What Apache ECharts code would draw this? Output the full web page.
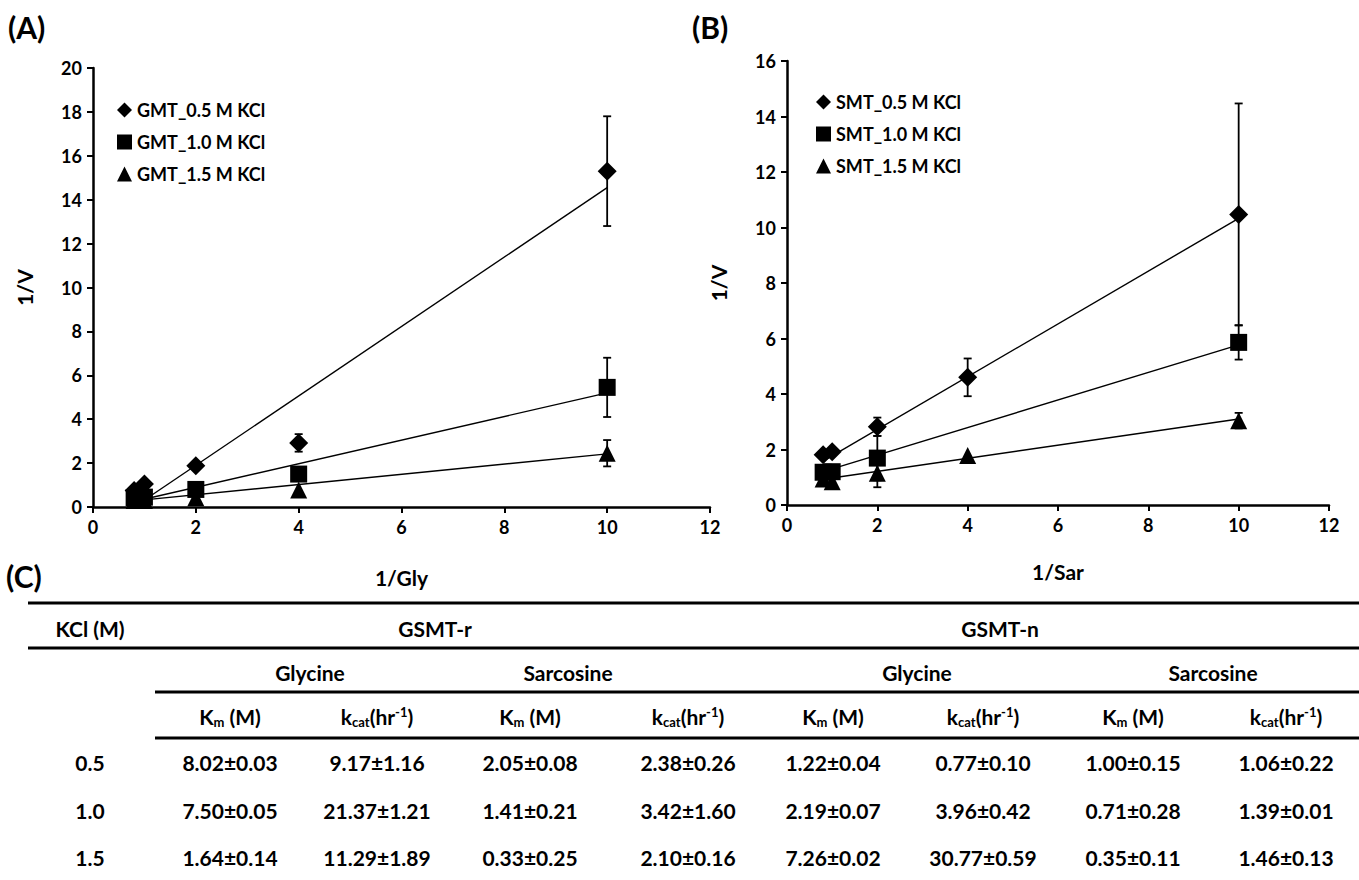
<!DOCTYPE html>
<html>
<head>
<meta charset="utf-8">
<script src="https://cdn.jsdelivr.net/npm/echarts@6/dist/echarts.min.js"></script>
<style>
  html, body { margin: 0; padding: 0; background: #fff; }
  #chart { width: 1359px; height: 880px; }
</style>
</head>
<body>
<div id="chart"></div>
<script>
// ---- panel A: 1/Gly ----
const xGly = [0.8, 1, 2, 4, 10];
const gmt05 = [0.75, 1.05, 1.88, 2.92, 15.3];
const gmt05Err = [0, 0, 0, 0.4, 2.5];
const gmt10 = [0.42, 0.45, 0.8, 1.5, 5.45];
const gmt10Err = [0, 0, 0, 0, 1.35];
const gmt15 = [0.3, 0.3, 0.42, 0.78, 2.45];
const gmt15Err = [0, 0, 0, 0, 0.6];
const trendGmt05 = [[0.8, 0.0], [10, 14.55]];
const trendGmt10 = [[0.8, 0.25], [10, 5.2]];
const trendGmt15 = [[0.8, 0.28], [10, 2.42]];

// ---- panel B: 1/Sar ----
const xSar = [0.8, 1, 2, 4, 10];
const smt05 = [1.81, 1.92, 2.82, 4.6, 10.47];
const smt05Err = [0, 0, 0.33, 0.68, 4.0];
const smt10 = [1.18, 1.2, 1.69, null, 5.86];
const smt10Err = [0, 0, 0.8, 0, 0.62];
const smt15 = [0.94, 0.84, 1.14, 1.78, 3.04];
const smt15Err = [0, 0, 0.5, 0, 0.28];
const trendSmt05 = [[0.8, 1.58], [10, 10.33]];
const trendSmt10 = [[0.8, 1.2], [10, 5.77]];
const trendSmt15 = [[0.8, 0.93], [10, 3.1]];

// ---- panel C: table ----
const kclLevels = ['0.5', '1.0', '1.5'];
const enzymes = ['GSMT-r', 'GSMT-n'];
const substrates = ['Glycine', 'Sarcosine', 'Glycine', 'Sarcosine'];
const row05 = ['8.02±0.03', '9.17±1.16', '2.05±0.08', '2.38±0.26', '1.22±0.04', '0.77±0.10', '1.00±0.15', '1.06±0.22'];
const row10 = ['7.50±0.05', '21.37±1.21', '1.41±0.21', '3.42±1.60', '2.19±0.07', '3.96±0.42', '0.71±0.28', '1.39±0.01'];
const row15 = ['1.64±0.14', '11.29±1.89', '0.33±0.25', '2.10±0.16', '7.26±0.02', '30.77±0.59', '0.35±0.11', '1.46±0.13'];

const FONT = 'Lato, "Open Sans", sans-serif';
const chart = echarts.init(document.getElementById('chart'), null, { renderer: 'svg' });

function pts(xs, ys) {
  return xs.map((x, i) => [x, ys[i]]).filter(p => p[1] !== null);
}
function errs(xs, ys, es) {
  return xs.map((x, i) => [x, ys[i] - es[i], ys[i] + es[i]]).filter((p, i) => ys[i] !== null && es[i] > 0);
}

function errorBar(params, api) {
  const x = api.value(0);
  const top = api.coord([x, api.value(2)]);
  const bot = api.coord([x, api.value(1)]);
  const cap = 4;
  const st = { stroke: '#000', lineWidth: 1.8 };
  return {
    type: 'group',
    children: [
      { type: 'line', shape: { x1: top[0], y1: top[1], x2: bot[0], y2: bot[1] }, style: st },
      { type: 'line', shape: { x1: top[0] - cap, y1: top[1], x2: top[0] + cap, y2: top[1] }, style: st },
      { type: 'line', shape: { x1: bot[0] - cap, y1: bot[1], x2: bot[0] + cap, y2: bot[1] }, style: st }
    ]
  };
}

const symbols = { '0.5': ['diamond', 19], '1.0': ['rect', 17], '1.5': ['triangle', 17] };

function scatter(name, idx, data, kcl) {
  return {
    name, type: 'scatter', xAxisIndex: idx, yAxisIndex: idx, data,
    symbol: symbols[kcl][0], symbolSize: symbols[kcl][1],
    itemStyle: { color: '#000', opacity: 1 }, z: 5, silent: true
  };
}
function trend(idx, data) {
  return {
    type: 'line', xAxisIndex: idx, yAxisIndex: idx, data, showSymbol: false,
    lineStyle: { color: '#000', width: 1.4 }, z: 3, silent: true
  };
}
function errSeries(idx, data) {
  return {
    type: 'custom', xAxisIndex: idx, yAxisIndex: idx, data, renderItem: errorBar,
    encode: { x: 0, y: [1, 2] }, z: 4, silent: true
  };
}

const axisCommon = {
  axisLine: { show: true, lineStyle: { color: '#000', width: 2.5 } },
  axisTick: { show: true, length: 6, lineStyle: { color: '#000', width: 2 } },
  axisLabel: { color: '#000', fontSize: 18, fontWeight: 'bold', fontFamily: FONT, margin: 11 },
  splitLine: { show: false },
  nameTextStyle: { color: '#000', fontSize: 21, fontWeight: 'bold', fontFamily: FONT },
  nameLocation: 'middle'
};

// table layout
const colX = [230, 377, 530, 688, 833, 983, 1133, 1286];
const rowY = [762, 810, 857];
const tableGraphics = [];
function txt(text, x, y, extra) {
  tableGraphics.push({
    type: 'text', x, y, silent: true,
    style: Object.assign({
      text, fill: '#000', font: 'bold 21px ' + FONT, textAlign: 'center', textVerticalAlign: 'middle'
    }, extra || {})
  });
}
function hline(x1, x2, y) {
  tableGraphics.push({ type: 'line', silent: true, shape: { x1, y1: y, x2, y2: y }, style: { stroke: '#000', lineWidth: 3 } });
}
const rich = {
  b: { fontSize: 21, fontWeight: 'bold', fontFamily: FONT, fill: '#000' },
  sub: { fontSize: 13, fontWeight: 'bold', fontFamily: FONT, fill: '#000', padding: [11, 0, 0, 0] },
  sup: { fontSize: 13, fontWeight: 'bold', fontFamily: FONT, fill: '#000', padding: [0, 0, 9, 0] }
};
hline(28, 1359, 603);
hline(28, 1359, 648);
hline(155, 1359, 692);
hline(155, 1359, 738);
txt('KCl (M)', 90, 628);
txt(enzymes[0], 435, 628);
txt(enzymes[1], 1000, 628);
const subX = [310, 568, 917, 1213];
substrates.forEach((s, i) => txt(s, subX[i], 672));
colX.forEach((x, i) => {
  const t = i % 2 === 0 ? '{b|K}{sub|m}{b| (M)}' : '{b|k}{sub|cat}{b|(hr}{sup|-1}{b|)}';
  txt(t, x, 716, { rich });
});
[row05, row10, row15].forEach((row, r) => {
  txt(kclLevels[r], 90, rowY[r]);
  row.forEach((v, c) => txt(v, colX[c], rowY[r]));
});

const option = {
  backgroundColor: '#fff',
  animation: false,
  textStyle: { fontFamily: FONT },
  grid: [
    { left: 93, top: 68, width: 617, height: 439 },
    { left: 787, top: 61, width: 542, height: 444 }
  ],
  xAxis: [
    Object.assign({}, axisCommon, { gridIndex: 0, type: 'value', min: 0, max: 12, interval: 2, name: '1/Gly', nameGap: 60 }),
    Object.assign({}, axisCommon, { gridIndex: 1, type: 'value', min: 0, max: 12, interval: 2, name: '1/Sar', nameGap: 56 })
  ],
  yAxis: [
    Object.assign({}, axisCommon, { gridIndex: 0, type: 'value', min: 0, max: 20, interval: 2, name: '1/V', nameGap: 58 }),
    Object.assign({}, axisCommon, { gridIndex: 1, type: 'value', min: 0, max: 16, interval: 2, name: '1/V', nameGap: 58 })
  ],
  legend: [
    {
      data: ['GMT_0.5 M KCl', 'GMT_1.0 M KCl', 'GMT_1.5 M KCl'],
      orient: 'vertical', left: 112, top: 96, itemGap: 14, itemWidth: 15, itemHeight: 15,
      textStyle: { color: '#000', fontSize: 18, fontWeight: 'bold', fontFamily: FONT }, selectedMode: false
    },
    {
      data: ['SMT_0.5 M KCl', 'SMT_1.0 M KCl', 'SMT_1.5 M KCl'],
      orient: 'vertical', left: 811, top: 88, itemGap: 14, itemWidth: 15, itemHeight: 15,
      textStyle: { color: '#000', fontSize: 18, fontWeight: 'bold', fontFamily: FONT }, selectedMode: false
    }
  ],
  graphic: [
    { type: 'text', left: 8, top: 12, style: { text: '(A)', font: 'bold 30px ' + FONT, fill: '#000' } },
    { type: 'text', left: 692, top: 12, style: { text: '(B)', font: 'bold 30px ' + FONT, fill: '#000' } },
    { type: 'text', left: 6, top: 561, style: { text: '(C)', font: 'bold 30px ' + FONT, fill: '#000' } }
  ].concat(tableGraphics),
  series: [
    trend(0, trendGmt05), trend(0, trendGmt10), trend(0, trendGmt15),
    errSeries(0, errs(xGly, gmt05, gmt05Err)),
    errSeries(0, errs(xGly, gmt10, gmt10Err)),
    errSeries(0, errs(xGly, gmt15, gmt15Err)),
    scatter('GMT_0.5 M KCl', 0, pts(xGly, gmt05), '0.5'),
    scatter('GMT_1.0 M KCl', 0, pts(xGly, gmt10), '1.0'),
    scatter('GMT_1.5 M KCl', 0, pts(xGly, gmt15), '1.5'),
    trend(1, trendSmt05), trend(1, trendSmt10), trend(1, trendSmt15),
    errSeries(1, errs(xSar, smt05, smt05Err)),
    errSeries(1, errs(xSar, smt10, smt10Err)),
    errSeries(1, errs(xSar, smt15, smt15Err)),
    scatter('SMT_0.5 M KCl', 1, pts(xSar, smt05), '0.5'),
    scatter('SMT_1.0 M KCl', 1, pts(xSar, smt10), '1.0'),
    scatter('SMT_1.5 M KCl', 1, pts(xSar, smt15), '1.5')
  ]
};

chart.setOption(option);
window.addEventListener('resize', () => chart.resize());
</script>
</body>
</html>
